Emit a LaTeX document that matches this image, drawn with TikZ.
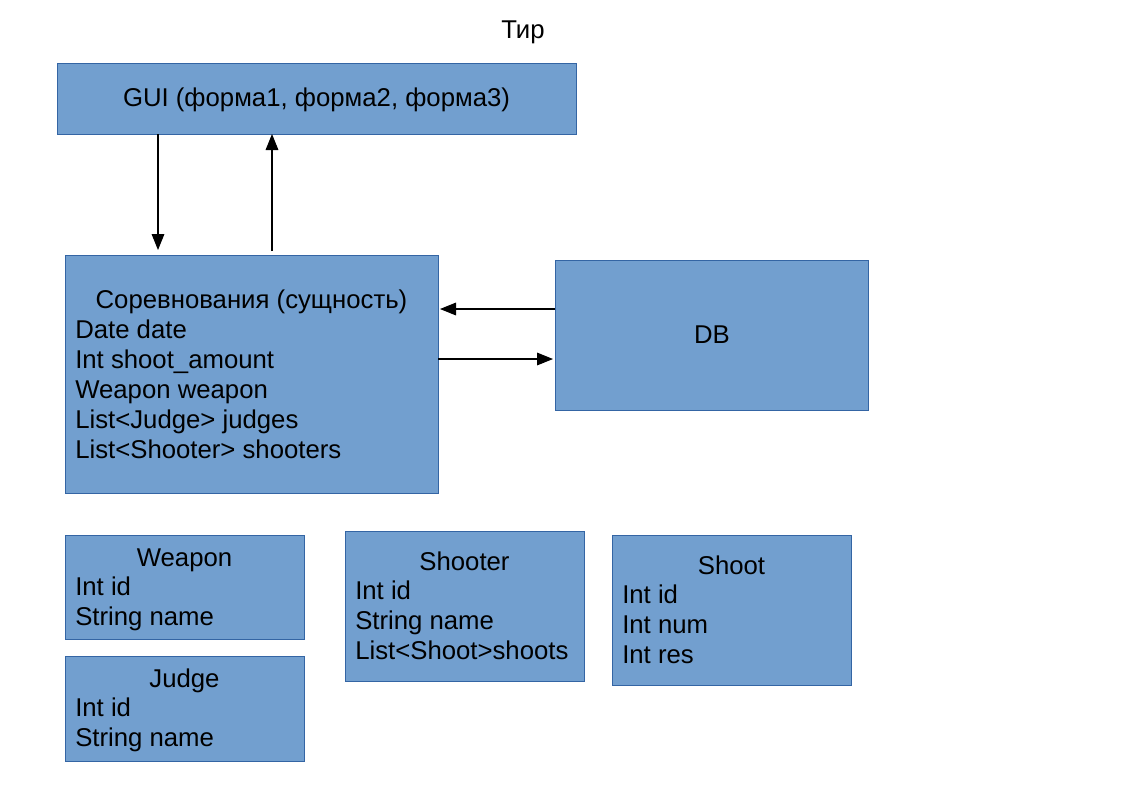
\documentclass[tikz,border=0pt]{standalone}
\usepackage{fontspec}
\setmainfont{Liberation Sans}
\usetikzlibrary{arrows.meta}
\definecolor{boxfill}{HTML}{729FCF}
\definecolor{boxline}{HTML}{3465A4}
\begin{document}
\begin{tikzpicture}[x=0.75pt,y=-0.75pt,
  entity/.style={draw=boxline,fill=boxfill,line width=0.75pt,inner sep=0pt,outer sep=0pt,anchor=north west},
  txt/.style={inner sep=0pt,font=\fontsize{19.3}{23}\selectfont},
  lft/.style={txt,anchor=base west},
  ctr/.style={txt,anchor=base},
  arr/.style={-{Triangle[length=12pt,width=9.5pt]},line width=0.8pt}]
\useasboundingbox (0,0) rectangle (1123,794);
\fill[white] (0,0) rectangle (1123,794);

\node[ctr] (title) at (523,38) {Тир};

% GUI
\node[entity,minimum width=389.25pt,minimum height=53.25pt] (gui) at (57,63) {};
\node[ctr] (guit) at (316.5,106) {GUI (форма1, форма2, форма3)};

% Competition
\node[entity,minimum width=279.75pt,minimum height=178.5pt] (comp) at (65,255) {};
\node[ctr] (compt) at (251.5,308) {Соревнования (сущность)};
\node[lft] (c1) at (75,338) {Date date};
\node[lft] (c2) at (75,368) {Int shoot\_amount};
\node[lft] (c3) at (75,398) {Weapon weapon};
\node[lft] (c4) at (75,428) {List<Judge> judges};
\node[lft] (c5) at (75,458) {List<Shooter> shooters};

% DB
\node[entity,minimum width=234.75pt,minimum height=112.5pt] (db) at (555,260) {};
\node[ctr] (dbt) at (712,343) {DB};

% Weapon
\node[entity,minimum width=179.25pt,minimum height=78pt] (weapon) at (65,535) {};
\node[ctr] (wt) at (184.5,566) {Weapon};
\node[lft] (w1) at (75,595) {Int id};
\node[lft] (w2) at (75,625) {String name};

% Judge
\node[entity,minimum width=179.25pt,minimum height=78.75pt] (judge) at (65,656) {};
\node[ctr] (jt) at (184.5,687) {Judge};
\node[lft] (j1) at (75,716) {Int id};
\node[lft] (j2) at (75,746) {String name};

% Shooter
\node[entity,minimum width=179.25pt,minimum height=112.5pt] (shooter) at (345,531) {};
\node[ctr] (st) at (464.5,570) {Shooter};
\node[lft] (s1) at (355,599) {Int id};
\node[lft] (s2) at (355,629) {String name};
\node[lft] (s3) at (355,659) {List<Shoot>shoots};

% Shoot
\node[entity,minimum width=179.25pt,minimum height=112.5pt] (shoot) at (612,535) {};
\node[ctr] (sht) at (731.5,574) {Shoot};
\node[lft] (h1) at (622,603) {Int id};
\node[lft] (h2) at (622,633) {Int num};
\node[lft] (h3) at (622,663) {Int res};

% connectors
\draw[arr,shorten >=3.75pt] (158,0 |- gui.south) -- (158,0 |- comp.north);
\draw[arr,shorten <=3pt] (272,0 |- comp.north) -- (272,0 |- gui.south);
\draw[arr,shorten >=1.5pt] (db.west |- 0,309) -- (comp.east |- 0,309);
\draw[arr,shorten >=1.5pt] (comp.east |- 0,359) -- (db.west |- 0,359);
\end{tikzpicture}
\end{document}
